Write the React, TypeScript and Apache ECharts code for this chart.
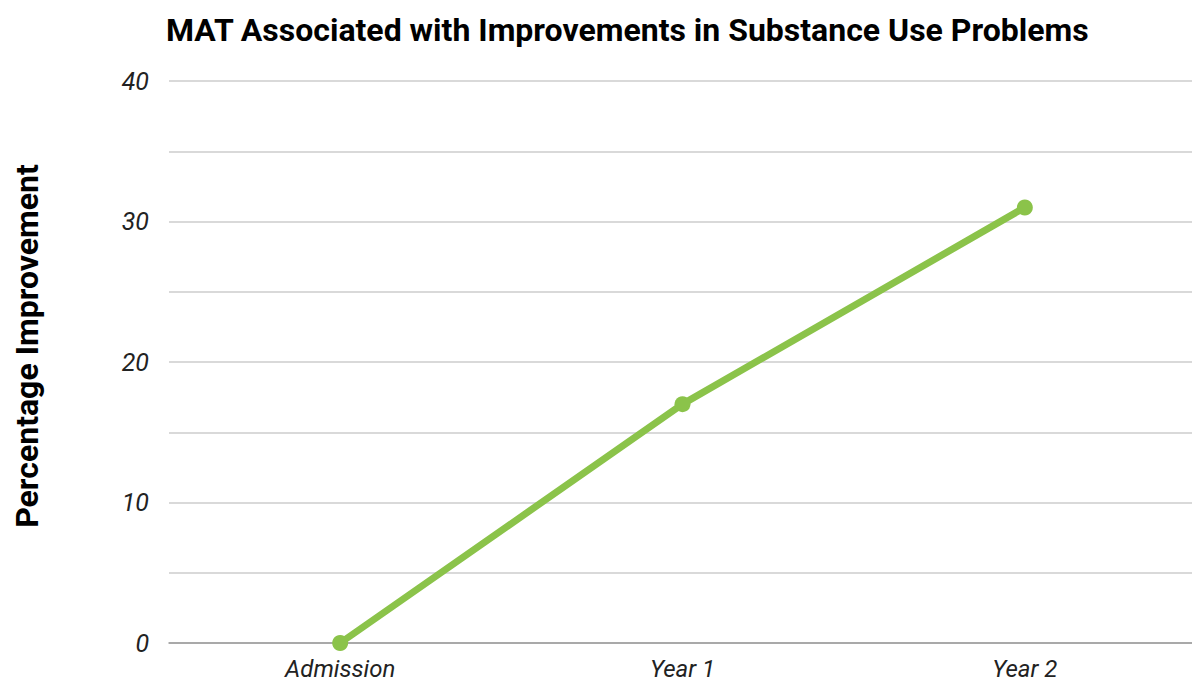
import React, { useEffect, useRef } from "react";
import * as echarts from "echarts";

const categories = ["Admission", "Year 1", "Year 2"];
const improvement = [0, 17, 31];
const titleText = "MAT Associated with Improvements in Substance Use Problems";
const yAxisName = "Percentage Improvement";

export default function App() {
  const ref = useRef<HTMLDivElement>(null);
  useEffect(() => {
    const chart = echarts.init(ref.current!, undefined, { renderer: "svg" });
    chart.setOption({
      animation: false,
      backgroundColor: "#ffffff",
      title: {
        text: titleText,
        left: 161,
        top: 9,
        textStyle: { fontFamily: "Roboto", fontWeight: "bold", fontSize: 32, color: "#000" },
      },
      graphic: [
        {
          type: "text",
          x: 27,
          y: 346,
          rotation: Math.PI / 2,
          style: {
            text: yAxisName,
            fontFamily: "Roboto",
            fontWeight: "bold",
            fontSize: 32,
            fill: "#000",
            align: "center",
            verticalAlign: "middle",
          },
        },
      ],
      grid: { left: 169, width: 1027, top: 81, bottom: 39, outerBoundsMode: "none", containLabel: false },
      xAxis: {
        type: "category",
        data: categories,
        boundaryGap: true,
        axisLine: { show: true, lineStyle: { color: "#999", width: 1.5 } },
        axisTick: { show: false },
        axisLabel: {
          fontFamily: "Roboto",
          fontStyle: "italic",
          fontSize: 24,
          lineHeight: 24,
          color: "#222",
          margin: 14,
        },
      },
      yAxis: {
        type: "value",
        min: 0,
        max: 40,
        interval: 5,
        axisLine: { show: false },
        axisTick: { show: false },
        axisLabel: {
          fontFamily: "Roboto",
          fontStyle: "italic",
          fontSize: 25,
          color: "#222",
          margin: 20,
          formatter: (v: number) => (v % 10 === 0 ? String(v) : ""),
        },
        splitLine: { lineStyle: { color: "#cccccc", width: 1.5 } },
      },
      series: [
        {
          type: "line",
          data: improvement,
          symbol: "circle",
          symbolSize: 16,
          lineStyle: { color: "#8bc34a", width: 7 },
          itemStyle: { color: "#8bc34a" },
        },
      ],
    });
    return () => chart.dispose();
  }, []);
  return (
    <div
      ref={ref}
      style={{ position: "absolute", left: 0, top: 0, width: 1192, height: 682 }}
    />
  );
}
